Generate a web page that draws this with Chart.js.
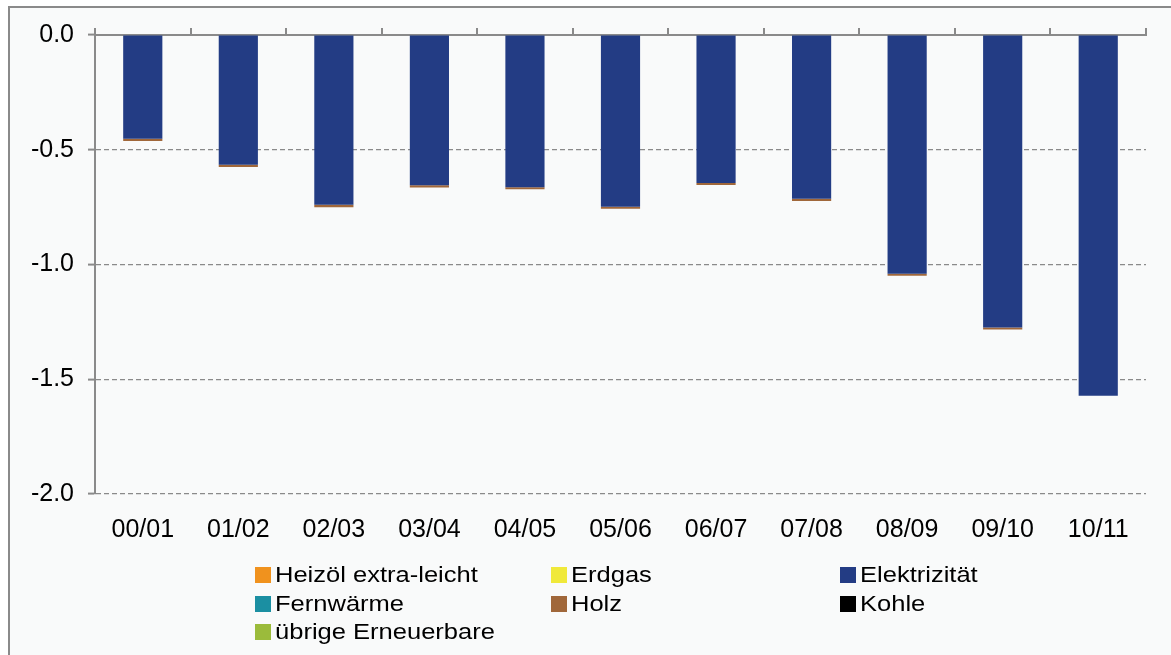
<!DOCTYPE html>
<html>
<head>
<meta charset="utf-8">
<script src="https://cdn.jsdelivr.net/npm/chart.js@4.4.1/dist/chart.umd.min.js"></script>
<style>
    html, body { margin: 0; padding: 0; background: #ffffff; }
    #frame {
        position: absolute; left: 8px; top: 6px; width: 1200px; height: 700px;
        border: 2px solid #8a8a8a; background: #f9fafa; box-sizing: border-box;
    }
    #wrap { position: absolute; left: 0; top: 0; width: 1171px; height: 655px; }
    #legend {
        position: absolute; left: 255px; top: 561px;
        display: grid; grid-template-columns: 296px 289px auto;
        font-family: "Liberation Sans", Arial, sans-serif; font-size: 22px;
        color: #000;
    }
    #legend .item { display: flex; align-items: center; height: 28.5px; white-space: nowrap; }
    #legend .box { width: 16px; height: 16px; margin-right: 4px; flex: none; }
    #legend .text { display: inline-block; transform: scaleX(1.16); transform-origin: left center; }
</style>
</head>
<body>
<div id="frame"></div>
<div id="wrap"><canvas id="chart" width="1171" height="655"></canvas></div>
<div id="legend"></div>
<script>
// heating periods
const periods = ['00/01', '01/02', '02/03', '03/04', '04/05', '05/06', '06/07', '07/08', '08/09', '09/10', '10/11'];

// change per energy carrier
const heizoel     = [0, 0, 0, 0, 0, 0, 0, 0, 0, 0, 0];
const erdgas      = [0, 0, 0, 0, 0, 0, 0, 0, 0, 0, 0];
const elektrizitaet = [-0.452, -0.565, -0.740, -0.655, -0.663, -0.748, -0.645, -0.713, -1.040, -1.275, -1.572];
const fernwaerme  = [0, 0, 0, 0, 0, 0, 0, 0, 0, 0, 0];
const holz        = [-0.010, -0.010, -0.010, -0.009, -0.009, -0.009, -0.009, -0.010, -0.009, -0.008, 0];
const kohle       = [0, 0, 0, 0, 0, 0, 0, 0, 0, 0, 0];
const uebrigeErn  = [0, 0, 0, 0, 0, 0, 0, 0, 0, 0, 0];

const yTicks = [0, -0.5, -1.0, -1.5, -2.0];

const series = [
    { label: 'Heizöl extra-leicht', data: heizoel, color: '#f0921e' },
    { label: 'Erdgas', data: erdgas, color: '#f0e93a' },
    { label: 'Elektrizität', data: elektrizitaet, color: '#233c84' },
    { label: 'Fernwärme', data: fernwaerme, color: '#1b8fa2' },
    { label: 'Holz', data: holz, color: '#a0673a' },
    { label: 'Kohle', data: kohle, color: '#000000' },
    { label: 'übrige Erneuerbare', data: uebrigeErn, color: '#9bbb3b' }
];

const gridGray = '#8a8a8a';
const font = { family: '"Liberation Sans", Arial, sans-serif', size: 25 };

const chart = new Chart(document.getElementById('chart'), {
    type: 'bar',
    data: {
        labels: periods,
        datasets: series.map(s => ({
            label: s.label,
            data: s.data,
            backgroundColor: s.color,
            borderWidth: 0,
            xAxisID: 'x',
            yAxisID: 'y',
            categoryPercentage: 1,
            barPercentage: 0.41
        }))
    },
    options: {
        responsive: false,
        animation: false,
        layout: { padding: { top: 27, right: 25, left: 0, bottom: 0 } },
        plugins: { legend: { display: false }, tooltip: { enabled: false } },
        scales: {
            x: {
                stacked: true,
                position: 'bottom',
                offset: true,
                grid: { display: false, drawTicks: false },
                border: { display: false },
                ticks: { color: '#000', font: font, padding: 21, maxRotation: 0 },
                afterFit(scale) { scale.height = 161; }
            },
            xTop: {
                type: 'category',
                position: 'top',
                offset: true,
                grid: { offset: true, drawOnChartArea: false, drawTicks: true, tickLength: 7, color: gridGray, lineWidth: 2 },
                border: { display: true, color: gridGray, width: 2 },
                ticks: { display: false },
                afterFit(scale) { scale.height = 8; }
            },
            y: {
                stacked: true,
                min: -2,
                max: 0,
                afterBuildTicks(scale) { scale.ticks = yTicks.map(v => ({ value: v })); },
                grid: {
                    color: ctx => (ctx.tick && ctx.tick.value === 0) ? 'rgba(0,0,0,0)' : gridGray,
                    lineWidth: 1.2,
                    drawTicks: true,
                    tickLength: 7,
                    tickColor: gridGray,
                    tickWidth: 2
                },
                border: { display: true, color: gridGray, width: 2, dash: [5, 3] },
                ticks: {
                    color: '#000',
                    font: font,
                    padding: 14,
                    callback: v => Number(v).toFixed(1)
                },
                afterFit(scale) { scale.width = 95; }
            }
        }
    }
});

// legend in three columns
const legend = document.getElementById('legend');
series.forEach(s => {
    const item = document.createElement('div');
    item.className = 'item';
    item.innerHTML = `<span class="box" style="background:${s.color}"></span><span class="text">${s.label}</span>`;
    legend.appendChild(item);
});
</script>
</body>
</html>
